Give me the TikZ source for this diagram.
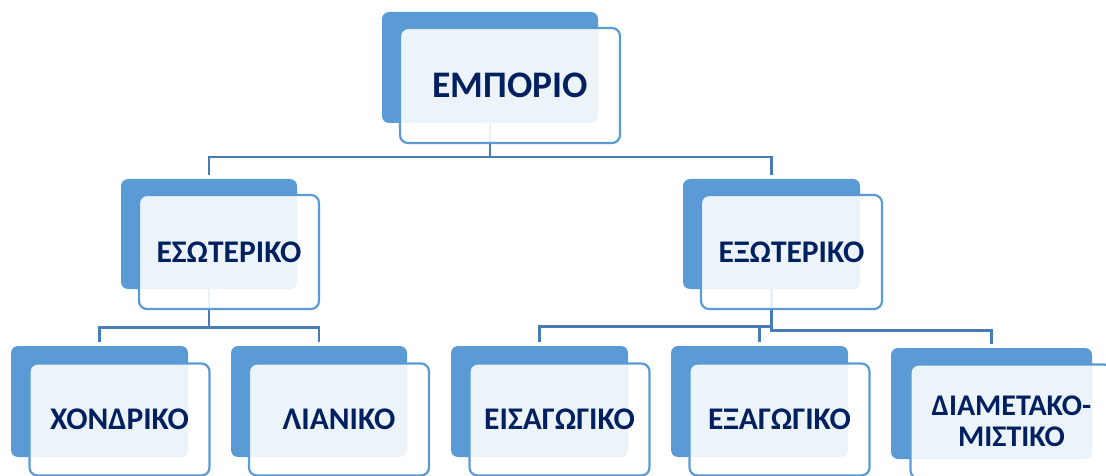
\documentclass[tikz,border=0pt]{standalone}
\usepackage{fontspec}
\setmainfont{Carlito}
\usepackage{tikz}
\usetikzlibrary{backgrounds}

\definecolor{boxBlue}{RGB}{91,155,213}
\definecolor{linkBlue}{RGB}{72,124,183}
\definecolor{textNavy}{RGB}{0,32,96}

\tikzset{
    backBox/.style={fill=boxBlue, rounded corners=7pt, inner sep=0pt},
    frontBox/.style={draw=boxBlue, line width=2.2pt, fill=white, fill opacity=0.89,
        text opacity=1, rounded corners=8pt, inner sep=0pt, align=center,
        text=textNavy, font=\bfseries\fontsize{31.5}{34}\selectfont},
    link/.style={draw=linkBlue, line width=2.6pt, shorten >=4pt},
}

\begin{document}
\begin{tikzpicture}[x=1pt, y=-1pt]
        \pgfmathsetmacro{\shiftX}{20}
        \pgfmathsetmacro{\shiftY}{18}

        \useasboundingbox (0, 0) rectangle (1106, 476);

        % top
        \node[backBox, minimum width=216, minimum height=111] (emporio-b) at (490, 67.5) {};
        \node[frontBox, minimum width=220, minimum height=115,
            font=\bfseries\fontsize{37.5}{40}\selectfont] (emporio)
            at ([shift={(\shiftX, \shiftY)}]emporio-b.center) {ΕΜΠΟΡΙΟ};

        % second row
        \node[backBox, minimum width=176, minimum height=110] (esoteriko-b) at (209, 234) {};
        \node[frontBox, minimum width=180, minimum height=114] (esoteriko)
            at ([shift={(\shiftX, \shiftY)}]esoteriko-b.center) {ΕΣΩΤΕΡΙΚΟ};
        \node[backBox, minimum width=177, minimum height=110] (exoteriko-b) at (771.5, 234) {};
        \node[frontBox, minimum width=181, minimum height=114] (exoteriko)
            at ([shift={(\shiftX, \shiftY)}]exoteriko-b.center) {ΕΞΩΤΕΡΙΚΟ};

        % third row
        \node[backBox, minimum width=177, minimum height=111] (xondriko-b) at (99.5, 401.5) {};
        \node[frontBox, minimum width=180, minimum height=112] (xondriko)
            at ([shift={(\shiftX, \shiftY)}]xondriko-b.center) {ΧΟΝΔΡΙΚΟ};
        \node[backBox, minimum width=176, minimum height=111] (lianiko-b) at (319, 401.5) {};
        \node[frontBox, minimum width=180, minimum height=112] (lianiko)
            at ([shift={(\shiftX, \shiftY)}]lianiko-b.center) {ΛΙΑΝΙΚΟ};
        \node[backBox, minimum width=177, minimum height=111] (eisagogiko-b) at (539.5, 401.5) {};
        \node[frontBox, minimum width=180, minimum height=112] (eisagogiko)
            at ([shift={(\shiftX, \shiftY)}]eisagogiko-b.center) {ΕΙΣΑΓΩΓΙΚΟ};
        \node[backBox, minimum width=177, minimum height=111] (exagogiko-b) at (759.5, 401.5) {};
        \node[frontBox, minimum width=180, minimum height=112] (exagogiko)
            at ([shift={(\shiftX, \shiftY)}]exagogiko-b.center) {ΕΞΑΓΩΓΙΚΟ};
        \node[backBox, minimum width=201, minimum height=111] (diametakomistiko-b) at (991.5, 403.5) {};
        \node[frontBox, minimum width=202, minimum height=114,
            font=\bfseries\fontsize{30}{31}\selectfont] (diametakomistiko)
            at ([shift={(\shiftX, \shiftY)}]diametakomistiko-b.center) {ΔΙΑΜΕΤΑΚΟ-\\ΜΙΣΤΙΚΟ};

        \begin{pgfonlayer}{background}
            \draw[link] (emporio-b.south) -- ++(0, 34) -| (esoteriko-b.north);
            \draw[link] (emporio-b.south) -- ++(0, 34) -| (exoteriko-b.north);
            \draw[link] (esoteriko-b.south) -- ++(0, 38) -| (xondriko-b.north);
            \draw[link] (esoteriko-b.south) -- ++(0, 38) -| (lianiko-b.north);
            \draw[link] (exoteriko-b.south) -- ++(0, 37) -| (eisagogiko-b.north);
            \draw[link] (exoteriko-b.south) -- ++(0, 37) -| (exagogiko-b.north);
            \draw[link] (exoteriko-b.south) -- ++(0, 41) -| (diametakomistiko-b.north);
        \end{pgfonlayer}
    \end{tikzpicture}
\end{document}
